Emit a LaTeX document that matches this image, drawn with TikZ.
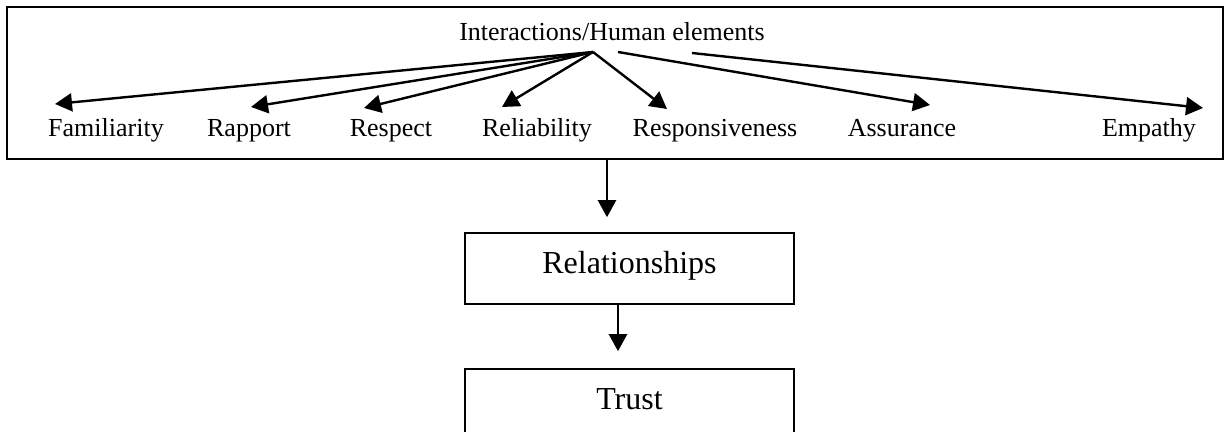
\documentclass[tikz,border=0pt]{standalone}
\usepackage{fontspec}
\setmainfont{Liberation Serif}
\usetikzlibrary{arrows.meta}

\begin{document}
\begin{tikzpicture}[
        x=0.5pt, y=-0.5pt,
        arr/.style={line width=1.2pt, -{Triangle[length=8.5pt,width=9pt]}},
        factor/.style={anchor=base, inner sep=0pt, font=\fontsize{13}{15}\selectfont},
        stage/.style={draw, line width=0.8pt, minimum width=164.5pt, minimum height=35.5pt,
          text height=10.5pt, text depth=5pt, font=\fontsize{16}{19}\selectfont}
      ]
        \useasboundingbox (0,0) rectangle (1228,432);

        % outer box with the human elements
        \node[draw, line width=0.8pt, minimum width=608pt, minimum height=76pt] (outer) at (615,83) {};
        \node[factor] (title) at (612,41) {Interactions/Human elements};

        \node[factor] (fam) at (106,137) {Familiarity};
        \node[factor] (rap) at (249,137) {Rapport};
        \node[factor] (res) at (391,137) {Respect};
        \node[factor] (rel) at (537,137) {Reliability};
        \node[factor] (rsp) at (715,137) {Responsiveness};
        \node[factor] (asr) at (902,137) {Assurance};
        \node[factor] (emp) at (1149,137) {Empathy};

        \coordinate (hubL) at (593,52);
        \coordinate (hubM) at (618,52);
        \coordinate (hubR) at (692,53);

        \coordinate (famTip) at (55,104);
        \coordinate (rapTip) at (251,107);
        \coordinate (resTip) at (364,108);
        \coordinate (relTip) at (502,107);
        \coordinate (rspTip) at (667,109);
        \coordinate (asrTip) at (930,105);
        \coordinate (empTip) at (1203,108);

        \draw[arr] (hubL) -- (famTip);
        \draw[arr] (hubL) -- (rapTip);
        \draw[arr] (hubL) -- (resTip);
        \draw[arr] (hubL) -- (relTip);
        \draw[arr] (hubL) -- (rspTip);
        \draw[arr] (hubM) -- (asrTip);
        \draw[arr] (hubR) -- (empTip);

        % outcome chain
        \node[stage] (relations) at (629.5,268.5) {Relationships};
        \node[stage] (trust) at (629.5,404.5) {Trust};

        \draw[arr] ([xshift=-11.25pt]relations.north |- outer.south) -- ([xshift=-11.25pt,yshift=7.5pt]relations.north);
        \draw[arr] ([xshift=-5.75pt]relations.south) -- ([xshift=-5.75pt,yshift=8.5pt]trust.north);
      \end{tikzpicture}
\end{document}
